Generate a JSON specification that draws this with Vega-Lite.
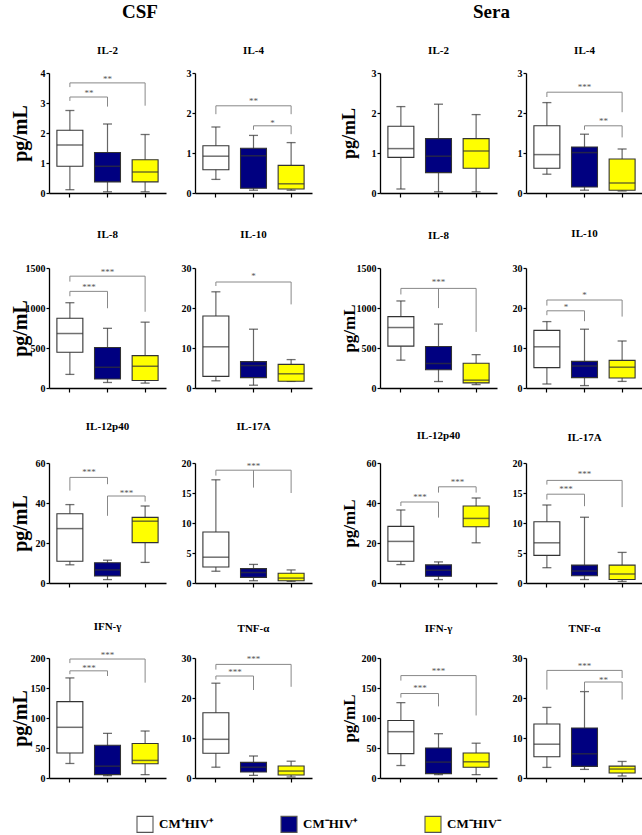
{
"$schema": "https://vega.github.io/schema/vega-lite/v6.json",
"padding": {"left": 10, "top": 3, "right": 2, "bottom": 0},
"background": "white",
"datasets": {"d": [
{"p":"C1","k":"box","g":"CM⁺HIV⁺","lo":0.11,"q1":0.89,"md":1.6,"q3":2.09,"hi":2.75},
{"p":"C1","k":"box","g":"CM⁻HIV⁺","lo":0.04,"q1":0.37,"md":0.89,"q3":1.35,"hi":2.3},
{"p":"C1","k":"box","g":"CM⁻HIV⁻","lo":0.04,"q1":0.37,"md":0.7,"q3":1.11,"hi":1.95},
{"p":"C1","k":"br","b":1,"o":1,"g":"CM⁺HIV⁺","y":3.07},
{"p":"C1","k":"br","b":1,"o":2,"g":"CM⁺HIV⁺","y":3.2},
{"p":"C1","k":"br","b":1,"o":3,"g":"CM⁻HIV⁺","y":3.2},
{"p":"C1","k":"br","b":1,"o":4,"g":"CM⁻HIV⁺","y":2.88},
{"p":"C1","k":"sh","g":"CM⁺HIV⁺","y":3.37,"s":"**"},
{"p":"C1","k":"br","b":2,"o":1,"g":"CM⁺HIV⁺","y":3.53},
{"p":"C1","k":"br","b":2,"o":2,"g":"CM⁺HIV⁺","y":3.67},
{"p":"C1","k":"br","b":2,"o":3,"g":"CM⁻HIV⁻","y":3.67},
{"p":"C1","k":"br","b":2,"o":4,"g":"CM⁻HIV⁻","y":2.91},
{"p":"C1","k":"s0","g":"CM⁻HIV⁺","y":3.86,"s":"**"},

{"p":"C2","k":"box","g":"CM⁺HIV⁺","lo":0.34,"q1":0.58,"md":0.92,"q3":1.18,"hi":1.65},
{"p":"C2","k":"box","g":"CM⁻HIV⁺","lo":0.07,"q1":0.12,"md":0.93,"q3":1.12,"hi":1.44},
{"p":"C2","k":"box","g":"CM⁻HIV⁻","lo":0.07,"q1":0.1,"md":0.23,"q3":0.69,"hi":1.26},
{"p":"C2","k":"br","b":1,"o":1,"g":"CM⁺HIV⁺","y":1.97},
{"p":"C2","k":"br","b":1,"o":2,"g":"CM⁺HIV⁺","y":2.18},
{"p":"C2","k":"br","b":1,"o":3,"g":"CM⁻HIV⁻","y":2.18},
{"p":"C2","k":"br","b":1,"o":4,"g":"CM⁻HIV⁻","y":1.97},
{"p":"C2","k":"s0","g":"CM⁻HIV⁺","y":2.33,"s":"**"},
{"p":"C2","k":"br","b":2,"o":1,"g":"CM⁻HIV⁺","y":1.58},
{"p":"C2","k":"br","b":2,"o":2,"g":"CM⁻HIV⁺","y":1.68},
{"p":"C2","k":"br","b":2,"o":3,"g":"CM⁻HIV⁻","y":1.68},
{"p":"C2","k":"br","b":2,"o":4,"g":"CM⁻HIV⁻","y":1.47},
{"p":"C2","k":"sh","g":"CM⁻HIV⁺","y":1.8,"s":"*"},

{"p":"C3","k":"box","g":"CM⁺HIV⁺","lo":170,"q1":446,"md":681,"q3":871,"hi":1066},
{"p":"C3","k":"box","g":"CM⁻HIV⁺","lo":69,"q1":113,"md":259,"q3":507,"hi":746},
{"p":"C3","k":"box","g":"CM⁻HIV⁻","lo":61,"q1":93,"md":272,"q3":405,"hi":823},
{"p":"C3","k":"br","b":1,"o":1,"g":"CM⁺HIV⁺","y":1147},
{"p":"C3","k":"br","b":1,"o":2,"g":"CM⁺HIV⁺","y":1208},
{"p":"C3","k":"br","b":1,"o":3,"g":"CM⁻HIV⁺","y":1208},
{"p":"C3","k":"br","b":1,"o":4,"g":"CM⁻HIV⁺","y":997},
{"p":"C3","k":"sh","g":"CM⁺HIV⁺","y":1277,"s":"***"},
{"p":"C3","k":"br","b":2,"o":1,"g":"CM⁺HIV⁺","y":1330},
{"p":"C3","k":"br","b":2,"o":2,"g":"CM⁺HIV⁺","y":1398},
{"p":"C3","k":"br","b":2,"o":3,"g":"CM⁻HIV⁻","y":1398},
{"p":"C3","k":"br","b":2,"o":4,"g":"CM⁻HIV⁻","y":953},
{"p":"C3","k":"s0","g":"CM⁻HIV⁺","y":1471,"s":"***"},

{"p":"C4","k":"box","g":"CM⁺HIV⁺","lo":1.8,"q1":2.9,"md":10.3,"q3":18.0,"hi":24.05},
{"p":"C4","k":"box","g":"CM⁻HIV⁺","lo":0.7,"q1":2.6,"md":5.6,"q3":6.6,"hi":14.7},
{"p":"C4","k":"box","g":"CM⁻HIV⁻","lo":1.65,"q1":1.7,"md":3.55,"q3":5.9,"hi":7.1},
{"p":"C4","k":"br","b":1,"o":1,"g":"CM⁺HIV⁺","y":25.5},
{"p":"C4","k":"br","b":1,"o":2,"g":"CM⁺HIV⁺","y":26.5},
{"p":"C4","k":"br","b":1,"o":3,"g":"CM⁻HIV⁻","y":26.5},
{"p":"C4","k":"br","b":1,"o":4,"g":"CM⁻HIV⁻","y":20.9},
{"p":"C4","k":"s0","g":"CM⁻HIV⁺","y":28.5,"s":"*"},

{"p":"C5","k":"box","g":"CM⁺HIV⁺","lo":9.1,"q1":10.9,"md":27.2,"q3":34.6,"hi":39.2},
{"p":"C5","k":"box","g":"CM⁻HIV⁺","lo":1.7,"q1":3.5,"md":6.55,"q3":10.1,"hi":11.4},
{"p":"C5","k":"box","g":"CM⁻HIV⁻","lo":10.3,"q1":20.2,"md":30.9,"q3":32.8,"hi":38.5},
{"p":"C5","k":"br","b":1,"o":1,"g":"CM⁺HIV⁺","y":46.2},
{"p":"C5","k":"br","b":1,"o":2,"g":"CM⁺HIV⁺","y":52.8},
{"p":"C5","k":"br","b":1,"o":3,"g":"CM⁻HIV⁺","y":52.8},
{"p":"C5","k":"br","b":1,"o":4,"g":"CM⁻HIV⁺","y":49.4},
{"p":"C5","k":"sh","g":"CM⁺HIV⁺","y":56.3,"s":"***"},
{"p":"C5","k":"br","b":2,"o":1,"g":"CM⁻HIV⁺","y":33.6},
{"p":"C5","k":"br","b":2,"o":2,"g":"CM⁻HIV⁺","y":43.5},
{"p":"C5","k":"br","b":2,"o":3,"g":"CM⁻HIV⁻","y":43.5},
{"p":"C5","k":"br","b":2,"o":4,"g":"CM⁻HIV⁻","y":40.7},
{"p":"C5","k":"sh","g":"CM⁻HIV⁺","y":46,"s":"***"},

{"p":"C6","k":"box","g":"CM⁺HIV⁺","lo":1.96,"q1":2.67,"md":4.3,"q3":8.5,"hi":17.2},
{"p":"C6","k":"box","g":"CM⁻HIV⁺","lo":0.38,"q1":0.93,"md":1.75,"q3":2.4,"hi":3.1},
{"p":"C6","k":"box","g":"CM⁻HIV⁻","lo":0.27,"q1":0.38,"md":0.82,"q3":1.63,"hi":2.18},
{"p":"C6","k":"br","b":1,"o":1,"g":"CM⁺HIV⁺","y":17.9},
{"p":"C6","k":"br","b":1,"o":2,"g":"CM⁺HIV⁺","y":18.8},
{"p":"C6","k":"br","b":1,"o":3,"g":"CM⁻HIV⁻","y":18.8},
{"p":"C6","k":"br","b":1,"o":4,"g":"CM⁻HIV⁻","y":15.0},
{"p":"C6","k":"br","b":2,"o":1,"g":"CM⁻HIV⁺","y":18.8},
{"p":"C6","k":"br","b":2,"o":2,"g":"CM⁻HIV⁺","y":15.9},
{"p":"C6","k":"s0","g":"CM⁻HIV⁺","y":19.8,"s":"***"},

{"p":"C7","k":"box","g":"CM⁺HIV⁺","lo":24.2,"q1":41.7,"md":84.5,"q3":127.3,"hi":166.8},
{"p":"C7","k":"box","g":"CM⁻HIV⁺","lo":3.9,"q1":5.6,"md":19.7,"q3":54.6,"hi":74.4},
{"p":"C7","k":"box","g":"CM⁻HIV⁻","lo":5.6,"q1":23.7,"md":29.3,"q3":57.5,"hi":78.3},
{"p":"C7","k":"br","b":1,"o":1,"g":"CM⁺HIV⁺","y":173},
{"p":"C7","k":"br","b":1,"o":2,"g":"CM⁺HIV⁺","y":178.6},
{"p":"C7","k":"br","b":1,"o":3,"g":"CM⁻HIV⁺","y":178.6},
{"p":"C7","k":"br","b":1,"o":4,"g":"CM⁻HIV⁺","y":170},
{"p":"C7","k":"sh","g":"CM⁺HIV⁺","y":186,"s":"***"},
{"p":"C7","k":"br","b":2,"o":1,"g":"CM⁺HIV⁺","y":191.5},
{"p":"C7","k":"br","b":2,"o":2,"g":"CM⁺HIV⁺","y":198.3},
{"p":"C7","k":"br","b":2,"o":3,"g":"CM⁻HIV⁻","y":198.3},
{"p":"C7","k":"br","b":2,"o":4,"g":"CM⁻HIV⁻","y":158.9},
{"p":"C7","k":"s0","g":"CM⁻HIV⁺","y":207,"s":"***"},

{"p":"C8","k":"box","g":"CM⁺HIV⁺","lo":2.7,"q1":6.2,"md":9.67,"q3":16.3,"hi":23.7},
{"p":"C8","k":"box","g":"CM⁻HIV⁺","lo":0.66,"q1":1.5,"md":2.7,"q3":3.9,"hi":5.5},
{"p":"C8","k":"box","g":"CM⁻HIV⁻","lo":0.25,"q1":0.74,"md":1.74,"q3":3.0,"hi":4.2},
{"p":"C8","k":"br","b":1,"o":1,"g":"CM⁺HIV⁺","y":24.6},
{"p":"C8","k":"br","b":1,"o":2,"g":"CM⁺HIV⁺","y":25.5},
{"p":"C8","k":"br","b":1,"o":3,"g":"CM⁻HIV⁺","y":25.5},
{"p":"C8","k":"br","b":1,"o":4,"g":"CM⁻HIV⁺","y":22.0},
{"p":"C8","k":"sh","g":"CM⁺HIV⁺","y":26.9,"s":"***"},
{"p":"C8","k":"br","b":2,"o":1,"g":"CM⁺HIV⁺","y":27.1},
{"p":"C8","k":"br","b":2,"o":2,"g":"CM⁺HIV⁺","y":28.4},
{"p":"C8","k":"br","b":2,"o":3,"g":"CM⁻HIV⁻","y":28.4},
{"p":"C8","k":"br","b":2,"o":4,"g":"CM⁻HIV⁻","y":22.8},
{"p":"C8","k":"s0","g":"CM⁻HIV⁺","y":30.1,"s":"***"},

{"p":"S1","k":"box","g":"CM⁺HIV⁺","lo":0.1,"q1":0.89,"md":1.11,"q3":1.67,"hi":2.16},
{"p":"S1","k":"box","g":"CM⁻HIV⁺","lo":0.03,"q1":0.51,"md":0.92,"q3":1.36,"hi":2.22},
{"p":"S1","k":"box","g":"CM⁻HIV⁻","lo":0.03,"q1":0.62,"md":1.05,"q3":1.36,"hi":1.96},

{"p":"S2","k":"box","g":"CM⁺HIV⁺","lo":0.47,"q1":0.62,"md":0.96,"q3":1.68,"hi":2.26},
{"p":"S2","k":"box","g":"CM⁻HIV⁺","lo":0.07,"q1":0.15,"md":1.01,"q3":1.15,"hi":1.47},
{"p":"S2","k":"box","g":"CM⁻HIV⁻","lo":0.05,"q1":0.07,"md":0.25,"q3":0.85,"hi":1.1},
{"p":"S2","k":"br","b":1,"o":1,"g":"CM⁺HIV⁺","y":2.4},
{"p":"S2","k":"br","b":1,"o":2,"g":"CM⁺HIV⁺","y":2.52},
{"p":"S2","k":"br","b":1,"o":3,"g":"CM⁻HIV⁻","y":2.52},
{"p":"S2","k":"br","b":1,"o":4,"g":"CM⁻HIV⁻","y":2.02},
{"p":"S2","k":"s0","g":"CM⁻HIV⁺","y":2.7,"s":"***"},
{"p":"S2","k":"br","b":2,"o":1,"g":"CM⁻HIV⁺","y":1.58},
{"p":"S2","k":"br","b":2,"o":2,"g":"CM⁻HIV⁺","y":1.68},
{"p":"S2","k":"br","b":2,"o":3,"g":"CM⁻HIV⁻","y":1.68},
{"p":"S2","k":"br","b":2,"o":4,"g":"CM⁻HIV⁻","y":1.39},
{"p":"S2","k":"sh","g":"CM⁻HIV⁺","y":1.85,"s":"**"},

{"p":"S3","k":"box","g":"CM⁺HIV⁺","lo":348,"q1":523,"md":756,"q3":892,"hi":1088},
{"p":"S3","k":"box","g":"CM⁻HIV⁺","lo":81,"q1":229,"md":306,"q3":518,"hi":799},
{"p":"S3","k":"box","g":"CM⁻HIV⁻","lo":42,"q1":64,"md":98,"q3":310,"hi":417},
{"p":"S3","k":"br","b":1,"o":1,"g":"CM⁺HIV⁺","y":1169},
{"p":"S3","k":"br","b":1,"o":2,"g":"CM⁺HIV⁺","y":1245},
{"p":"S3","k":"br","b":1,"o":3,"g":"CM⁻HIV⁻","y":1245},
{"p":"S3","k":"br","b":1,"o":4,"g":"CM⁻HIV⁻","y":701},
{"p":"S3","k":"br","b":2,"o":1,"g":"CM⁻HIV⁺","y":1245},
{"p":"S3","k":"br","b":2,"o":2,"g":"CM⁻HIV⁺","y":999},
{"p":"S3","k":"s0","g":"CM⁻HIV⁺","y":1347,"s":"***"},

{"p":"S4","k":"box","g":"CM⁺HIV⁺","lo":1.0,"q1":5.1,"md":10.3,"q3":14.4,"hi":16.6},
{"p":"S4","k":"box","g":"CM⁻HIV⁺","lo":0.6,"q1":2.6,"md":5.5,"q3":6.66,"hi":14.7},
{"p":"S4","k":"box","g":"CM⁻HIV⁻","lo":1.65,"q1":2.5,"md":5.2,"q3":6.9,"hi":11.75},
{"p":"S4","k":"br","b":1,"o":1,"g":"CM⁺HIV⁺","y":18.2},
{"p":"S4","k":"br","b":1,"o":2,"g":"CM⁺HIV⁺","y":19.3},
{"p":"S4","k":"br","b":1,"o":3,"g":"CM⁻HIV⁺","y":19.3},
{"p":"S4","k":"br","b":1,"o":4,"g":"CM⁻HIV⁺","y":16.7},
{"p":"S4","k":"sh","g":"CM⁺HIV⁺","y":20.75,"s":"*"},
{"p":"S4","k":"br","b":2,"o":1,"g":"CM⁺HIV⁺","y":20.6},
{"p":"S4","k":"br","b":2,"o":2,"g":"CM⁺HIV⁺","y":22.0},
{"p":"S4","k":"br","b":2,"o":3,"g":"CM⁻HIV⁻","y":22.0},
{"p":"S4","k":"br","b":2,"o":4,"g":"CM⁻HIV⁻","y":17.85},
{"p":"S4","k":"s0","g":"CM⁻HIV⁺","y":23.7,"s":"*"},

{"p":"S5","k":"box","g":"CM⁺HIV⁺","lo":9.2,"q1":10.9,"md":20.8,"q3":28.3,"hi":36.5},
{"p":"S5","k":"box","g":"CM⁻HIV⁺","lo":1.7,"q1":3.35,"md":6.4,"q3":9.05,"hi":10.55},
{"p":"S5","k":"box","g":"CM⁻HIV⁻","lo":20.1,"q1":28.1,"md":32.3,"q3":38.5,"hi":42.5},
{"p":"S5","k":"br","b":1,"o":1,"g":"CM⁺HIV⁺","y":38.5},
{"p":"S5","k":"br","b":1,"o":2,"g":"CM⁺HIV⁺","y":40.5},
{"p":"S5","k":"br","b":1,"o":3,"g":"CM⁻HIV⁺","y":40.5},
{"p":"S5","k":"br","b":1,"o":4,"g":"CM⁻HIV⁺","y":32.7},
{"p":"S5","k":"sh","g":"CM⁺HIV⁺","y":44,"s":"***"},
{"p":"S5","k":"br","b":2,"o":1,"g":"CM⁻HIV⁺","y":45.2},
{"p":"S5","k":"br","b":2,"o":2,"g":"CM⁻HIV⁺","y":48.1},
{"p":"S5","k":"br","b":2,"o":3,"g":"CM⁻HIV⁻","y":48.1},
{"p":"S5","k":"br","b":2,"o":4,"g":"CM⁻HIV⁻","y":45.2},
{"p":"S5","k":"sh","g":"CM⁻HIV⁺","y":51.1,"s":"***"},

{"p":"S6","k":"box","g":"CM⁺HIV⁺","lo":2.55,"q1":4.6,"md":6.7,"q3":10.2,"hi":13.0},
{"p":"S6","k":"box","g":"CM⁻HIV⁺","lo":0.58,"q1":1.22,"md":2.0,"q3":2.98,"hi":10.96},
{"p":"S6","k":"box","g":"CM⁻HIV⁻","lo":0.27,"q1":0.58,"md":1.5,"q3":2.98,"hi":5.1},
{"p":"S6","k":"br","b":1,"o":1,"g":"CM⁺HIV⁺","y":13.9},
{"p":"S6","k":"br","b":1,"o":2,"g":"CM⁺HIV⁺","y":14.8},
{"p":"S6","k":"br","b":1,"o":3,"g":"CM⁻HIV⁺","y":14.8},
{"p":"S6","k":"br","b":1,"o":4,"g":"CM⁻HIV⁺","y":12.8},
{"p":"S6","k":"sh","g":"CM⁺HIV⁺","y":15.95,"s":"***"},
{"p":"S6","k":"br","b":2,"o":1,"g":"CM⁺HIV⁺","y":16.4},
{"p":"S6","k":"br","b":2,"o":2,"g":"CM⁺HIV⁺","y":17.1},
{"p":"S6","k":"br","b":2,"o":3,"g":"CM⁻HIV⁻","y":17.1},
{"p":"S6","k":"br","b":2,"o":4,"g":"CM⁻HIV⁻","y":12.65},
{"p":"S6","k":"s0","g":"CM⁻HIV⁺","y":18.4,"s":"***"},

{"p":"S7","k":"box","g":"CM⁺HIV⁺","lo":20.8,"q1":40.6,"md":77.2,"q3":95.8,"hi":125.6},
{"p":"S7","k":"box","g":"CM⁻HIV⁺","lo":5.6,"q1":7.3,"md":26.5,"q3":50.1,"hi":73.8},
{"p":"S7","k":"box","g":"CM⁻HIV⁻","lo":5.6,"q1":18.0,"md":27,"q3":41.7,"hi":58.0},
{"p":"S7","k":"br","b":1,"o":1,"g":"CM⁺HIV⁺","y":134},
{"p":"S7","k":"br","b":1,"o":2,"g":"CM⁺HIV⁺","y":140.8},
{"p":"S7","k":"br","b":1,"o":3,"g":"CM⁻HIV⁺","y":140.8},
{"p":"S7","k":"br","b":1,"o":4,"g":"CM⁻HIV⁺","y":119.4},
{"p":"S7","k":"sh","g":"CM⁺HIV⁺","y":152,"s":"***"},
{"p":"S7","k":"br","b":2,"o":1,"g":"CM⁺HIV⁺","y":162.3},
{"p":"S7","k":"br","b":2,"o":2,"g":"CM⁺HIV⁺","y":170.7},
{"p":"S7","k":"br","b":2,"o":3,"g":"CM⁻HIV⁻","y":170.7},
{"p":"S7","k":"br","b":2,"o":4,"g":"CM⁻HIV⁻","y":104.2},
{"p":"S7","k":"s0","g":"CM⁻HIV⁺","y":181.4,"s":"***"},

{"p":"S8","k":"box","g":"CM⁺HIV⁺","lo":2.65,"q1":5.3,"md":8.45,"q3":13.5,"hi":17.65},
{"p":"S8","k":"box","g":"CM⁻HIV⁺","lo":2.15,"q1":2.9,"md":6.05,"q3":12.5,"hi":21.6},
{"p":"S8","k":"box","g":"CM⁻HIV⁻","lo":0.5,"q1":1.24,"md":2.24,"q3":2.98,"hi":4.14},
{"p":"S8","k":"br","b":1,"o":1,"g":"CM⁺HIV⁺","y":22.1},
{"p":"S8","k":"br","b":1,"o":2,"g":"CM⁺HIV⁺","y":26.9},
{"p":"S8","k":"br","b":1,"o":3,"g":"CM⁻HIV⁻","y":26.9},
{"p":"S8","k":"br","b":1,"o":4,"g":"CM⁻HIV⁻","y":25.0},
{"p":"S8","k":"s0","g":"CM⁻HIV⁺","y":28.5,"s":"***"},
{"p":"S8","k":"br","b":2,"o":1,"g":"CM⁻HIV⁺","y":21.7},
{"p":"S8","k":"br","b":2,"o":2,"g":"CM⁻HIV⁺","y":24.0},
{"p":"S8","k":"br","b":2,"o":3,"g":"CM⁻HIV⁻","y":24.0},
{"p":"S8","k":"br","b":2,"o":4,"g":"CM⁻HIV⁻","y":19.6},
{"p":"S8","k":"sh","g":"CM⁻HIV⁺","y":24.85,"s":"**"}
]},
"spacing": 28,
"hconcat": [
{"title": {"text": "CSF", "fontSize": 19, "offset": 23, "dx": -21},
 "columns": 2, "bounds": "flush", "spacing": {"row": 75, "column": 29},
 "concat": [
  {"width":117,"height":120,"title":{"text":"IL-2","offset":12},"data":{"name":"d"},"transform":[{"filter":{"field":"p","equal":"C1"}}],
   "layer":[
    {"transform":[{"filter":{"field":"k","equal":"box"}}],"mark":"rule","encoding":{"x":{"field":"g","type":"nominal","title":null,"scale":{"type":"band","domain":["CM⁺HIV⁺","CM⁻HIV⁺","CM⁻HIV⁻"],"paddingInner":0.31,"paddingOuter":0.21}},"y":{"field":"lo","type":"quantitative","title":"pg/mL","scale":{"domain":[0,4],"nice":false},"axis":{"values":[0,1,2,3,4],"tickCount":10,"format":"d","titleX":-19,"titleFontSize":20}},"y2":{"field":"hi"}}},
    {"transform":[{"filter":{"field":"k","equal":"box"}}],"mark":{"type":"tick","size":9},"encoding":{"x":{"field":"g","type":"nominal","title":null},"y":{"field":"lo","type":"quantitative","title":"pg/mL"}}},
    {"transform":[{"filter":{"field":"k","equal":"box"}}],"mark":{"type":"tick","size":9},"encoding":{"x":{"field":"g","type":"nominal","title":null},"y":{"field":"hi","type":"quantitative","title":"pg/mL"}}},
    {"transform":[{"filter":{"field":"k","equal":"box"}}],"mark":"bar","encoding":{"x":{"field":"g","type":"nominal","title":null},"y":{"field":"q1","type":"quantitative","title":"pg/mL"},"y2":{"field":"q3"},"fill":{"field":"g","type":"nominal","scale":{"domain":["CM⁺HIV⁺","CM⁻HIV⁺","CM⁻HIV⁻"],"range":["#ffffff","#000080","#ffff00"]},"legend":{"title":null}}}},
    {"transform":[{"filter":{"field":"k","equal":"box"}}],"mark":{"type":"tick","size":26,"thickness":1.5},"encoding":{"x":{"field":"g","type":"nominal","title":null},"y":{"field":"md","type":"quantitative","title":"pg/mL"}}},
    {"transform":[{"filter":{"field":"k","equal":"br"}}],"mark":"line","encoding":{"x":{"field":"g","type":"nominal","title":null},"y":{"field":"y","type":"quantitative","title":"pg/mL"},"detail":{"field":"b","type":"nominal"},"order":{"field":"o","type":"quantitative"}}},
    {"transform":[{"filter":{"field":"k","equal":"sh"}}],"mark":{"type":"text","dx":19,"dy":1.5},"encoding":{"x":{"field":"g","type":"nominal","title":null},"y":{"field":"y","type":"quantitative","title":"pg/mL"},"text":{"field":"s"}}},
    {"transform":[{"filter":{"field":"k","equal":"s0"}}],"mark":{"type":"text","dy":1.5},"encoding":{"x":{"field":"g","type":"nominal","title":null},"y":{"field":"y","type":"quantitative","title":"pg/mL"},"text":{"field":"s"}}}
   ]},
  {"width":117,"height":120,"title":{"text":"IL-4","offset":12},"data":{"name":"d"},"transform":[{"filter":{"field":"p","equal":"C2"}}],
   "layer":[
    {"transform":[{"filter":{"field":"k","equal":"box"}}],"mark":"rule","encoding":{"x":{"field":"g","type":"nominal","title":null,"scale":{"type":"band","domain":["CM⁺HIV⁺","CM⁻HIV⁺","CM⁻HIV⁻"],"paddingInner":0.31,"paddingOuter":0.21}},"y":{"field":"lo","type":"quantitative","title":null,"scale":{"domain":[0,3],"nice":false},"axis":{"values":[0,1,2,3],"tickCount":10,"format":"d"}},"y2":{"field":"hi"}}},
    {"transform":[{"filter":{"field":"k","equal":"box"}}],"mark":{"type":"tick","size":9},"encoding":{"x":{"field":"g","type":"nominal","title":null},"y":{"field":"lo","type":"quantitative","title":null}}},
    {"transform":[{"filter":{"field":"k","equal":"box"}}],"mark":{"type":"tick","size":9},"encoding":{"x":{"field":"g","type":"nominal","title":null},"y":{"field":"hi","type":"quantitative","title":null}}},
    {"transform":[{"filter":{"field":"k","equal":"box"}}],"mark":"bar","encoding":{"x":{"field":"g","type":"nominal","title":null},"y":{"field":"q1","type":"quantitative","title":null},"y2":{"field":"q3"},"fill":{"field":"g","type":"nominal","scale":{"domain":["CM⁺HIV⁺","CM⁻HIV⁺","CM⁻HIV⁻"],"range":["#ffffff","#000080","#ffff00"]},"legend":{"title":null}}}},
    {"transform":[{"filter":{"field":"k","equal":"box"}}],"mark":{"type":"tick","size":26,"thickness":1.5},"encoding":{"x":{"field":"g","type":"nominal","title":null},"y":{"field":"md","type":"quantitative","title":null}}},
    {"transform":[{"filter":{"field":"k","equal":"br"}}],"mark":"line","encoding":{"x":{"field":"g","type":"nominal","title":null},"y":{"field":"y","type":"quantitative","title":null},"detail":{"field":"b","type":"nominal"},"order":{"field":"o","type":"quantitative"}}},
    {"transform":[{"filter":{"field":"k","equal":"sh"}}],"mark":{"type":"text","dx":19,"dy":1.5},"encoding":{"x":{"field":"g","type":"nominal","title":null},"y":{"field":"y","type":"quantitative","title":null},"text":{"field":"s"}}},
    {"transform":[{"filter":{"field":"k","equal":"s0"}}],"mark":{"type":"text","dy":1.5},"encoding":{"x":{"field":"g","type":"nominal","title":null},"y":{"field":"y","type":"quantitative","title":null},"text":{"field":"s"}}}
   ]},
  {"width":117,"height":120,"title":{"text":"IL-8","offset":23},"data":{"name":"d"},"transform":[{"filter":{"field":"p","equal":"C3"}}],
   "layer":[
    {"transform":[{"filter":{"field":"k","equal":"box"}}],"mark":"rule","encoding":{"x":{"field":"g","type":"nominal","title":null,"scale":{"type":"band","domain":["CM⁺HIV⁺","CM⁻HIV⁺","CM⁻HIV⁻"],"paddingInner":0.31,"paddingOuter":0.21}},"y":{"field":"lo","type":"quantitative","title":"pg/mL","scale":{"domain":[0,1500],"nice":false},"axis":{"values":[0,500,1000,1500],"tickCount":10,"format":"d","titleX":-19,"titleFontSize":20}},"y2":{"field":"hi"}}},
    {"transform":[{"filter":{"field":"k","equal":"box"}}],"mark":{"type":"tick","size":9},"encoding":{"x":{"field":"g","type":"nominal","title":null},"y":{"field":"lo","type":"quantitative","title":"pg/mL"}}},
    {"transform":[{"filter":{"field":"k","equal":"box"}}],"mark":{"type":"tick","size":9},"encoding":{"x":{"field":"g","type":"nominal","title":null},"y":{"field":"hi","type":"quantitative","title":"pg/mL"}}},
    {"transform":[{"filter":{"field":"k","equal":"box"}}],"mark":"bar","encoding":{"x":{"field":"g","type":"nominal","title":null},"y":{"field":"q1","type":"quantitative","title":"pg/mL"},"y2":{"field":"q3"},"fill":{"field":"g","type":"nominal","scale":{"domain":["CM⁺HIV⁺","CM⁻HIV⁺","CM⁻HIV⁻"],"range":["#ffffff","#000080","#ffff00"]},"legend":{"title":null}}}},
    {"transform":[{"filter":{"field":"k","equal":"box"}}],"mark":{"type":"tick","size":26,"thickness":1.5},"encoding":{"x":{"field":"g","type":"nominal","title":null},"y":{"field":"md","type":"quantitative","title":"pg/mL"}}},
    {"transform":[{"filter":{"field":"k","equal":"br"}}],"mark":"line","encoding":{"x":{"field":"g","type":"nominal","title":null},"y":{"field":"y","type":"quantitative","title":"pg/mL"},"detail":{"field":"b","type":"nominal"},"order":{"field":"o","type":"quantitative"}}},
    {"transform":[{"filter":{"field":"k","equal":"sh"}}],"mark":{"type":"text","dx":19,"dy":1.5},"encoding":{"x":{"field":"g","type":"nominal","title":null},"y":{"field":"y","type":"quantitative","title":"pg/mL"},"text":{"field":"s"}}},
    {"transform":[{"filter":{"field":"k","equal":"s0"}}],"mark":{"type":"text","dy":1.5},"encoding":{"x":{"field":"g","type":"nominal","title":null},"y":{"field":"y","type":"quantitative","title":"pg/mL"},"text":{"field":"s"}}}
   ]},
  {"width":117,"height":120,"title":{"text":"IL-10","offset":23},"data":{"name":"d"},"transform":[{"filter":{"field":"p","equal":"C4"}}],
   "layer":[
    {"transform":[{"filter":{"field":"k","equal":"box"}}],"mark":"rule","encoding":{"x":{"field":"g","type":"nominal","title":null,"scale":{"type":"band","domain":["CM⁺HIV⁺","CM⁻HIV⁺","CM⁻HIV⁻"],"paddingInner":0.31,"paddingOuter":0.21}},"y":{"field":"lo","type":"quantitative","title":null,"scale":{"domain":[0,30],"nice":false},"axis":{"values":[0,10,20,30],"tickCount":10,"format":"d"}},"y2":{"field":"hi"}}},
    {"transform":[{"filter":{"field":"k","equal":"box"}}],"mark":{"type":"tick","size":9},"encoding":{"x":{"field":"g","type":"nominal","title":null},"y":{"field":"lo","type":"quantitative","title":null}}},
    {"transform":[{"filter":{"field":"k","equal":"box"}}],"mark":{"type":"tick","size":9},"encoding":{"x":{"field":"g","type":"nominal","title":null},"y":{"field":"hi","type":"quantitative","title":null}}},
    {"transform":[{"filter":{"field":"k","equal":"box"}}],"mark":"bar","encoding":{"x":{"field":"g","type":"nominal","title":null},"y":{"field":"q1","type":"quantitative","title":null},"y2":{"field":"q3"},"fill":{"field":"g","type":"nominal","scale":{"domain":["CM⁺HIV⁺","CM⁻HIV⁺","CM⁻HIV⁻"],"range":["#ffffff","#000080","#ffff00"]},"legend":{"title":null}}}},
    {"transform":[{"filter":{"field":"k","equal":"box"}}],"mark":{"type":"tick","size":26,"thickness":1.5},"encoding":{"x":{"field":"g","type":"nominal","title":null},"y":{"field":"md","type":"quantitative","title":null}}},
    {"transform":[{"filter":{"field":"k","equal":"br"}}],"mark":"line","encoding":{"x":{"field":"g","type":"nominal","title":null},"y":{"field":"y","type":"quantitative","title":null},"detail":{"field":"b","type":"nominal"},"order":{"field":"o","type":"quantitative"}}},
    {"transform":[{"filter":{"field":"k","equal":"sh"}}],"mark":{"type":"text","dx":19,"dy":1.5},"encoding":{"x":{"field":"g","type":"nominal","title":null},"y":{"field":"y","type":"quantitative","title":null},"text":{"field":"s"}}},
    {"transform":[{"filter":{"field":"k","equal":"s0"}}],"mark":{"type":"text","dy":1.5},"encoding":{"x":{"field":"g","type":"nominal","title":null},"y":{"field":"y","type":"quantitative","title":null},"text":{"field":"s"}}}
   ]},
  {"width":117,"height":120,"title":{"text":"IL-12p40","offset":26},"data":{"name":"d"},"transform":[{"filter":{"field":"p","equal":"C5"}}],
   "layer":[
    {"transform":[{"filter":{"field":"k","equal":"box"}}],"mark":"rule","encoding":{"x":{"field":"g","type":"nominal","title":null,"scale":{"type":"band","domain":["CM⁺HIV⁺","CM⁻HIV⁺","CM⁻HIV⁻"],"paddingInner":0.31,"paddingOuter":0.21}},"y":{"field":"lo","type":"quantitative","title":"pg/mL","scale":{"domain":[0,60],"nice":false},"axis":{"values":[0,20,40,60],"tickCount":10,"format":"d","titleX":-19,"titleFontSize":20}},"y2":{"field":"hi"}}},
    {"transform":[{"filter":{"field":"k","equal":"box"}}],"mark":{"type":"tick","size":9},"encoding":{"x":{"field":"g","type":"nominal","title":null},"y":{"field":"lo","type":"quantitative","title":"pg/mL"}}},
    {"transform":[{"filter":{"field":"k","equal":"box"}}],"mark":{"type":"tick","size":9},"encoding":{"x":{"field":"g","type":"nominal","title":null},"y":{"field":"hi","type":"quantitative","title":"pg/mL"}}},
    {"transform":[{"filter":{"field":"k","equal":"box"}}],"mark":"bar","encoding":{"x":{"field":"g","type":"nominal","title":null},"y":{"field":"q1","type":"quantitative","title":"pg/mL"},"y2":{"field":"q3"},"fill":{"field":"g","type":"nominal","scale":{"domain":["CM⁺HIV⁺","CM⁻HIV⁺","CM⁻HIV⁻"],"range":["#ffffff","#000080","#ffff00"]},"legend":{"title":null}}}},
    {"transform":[{"filter":{"field":"k","equal":"box"}}],"mark":{"type":"tick","size":26,"thickness":1.5},"encoding":{"x":{"field":"g","type":"nominal","title":null},"y":{"field":"md","type":"quantitative","title":"pg/mL"}}},
    {"transform":[{"filter":{"field":"k","equal":"br"}}],"mark":"line","encoding":{"x":{"field":"g","type":"nominal","title":null},"y":{"field":"y","type":"quantitative","title":"pg/mL"},"detail":{"field":"b","type":"nominal"},"order":{"field":"o","type":"quantitative"}}},
    {"transform":[{"filter":{"field":"k","equal":"sh"}}],"mark":{"type":"text","dx":19,"dy":1.5},"encoding":{"x":{"field":"g","type":"nominal","title":null},"y":{"field":"y","type":"quantitative","title":"pg/mL"},"text":{"field":"s"}}},
    {"transform":[{"filter":{"field":"k","equal":"s0"}}],"mark":{"type":"text","dy":1.5},"encoding":{"x":{"field":"g","type":"nominal","title":null},"y":{"field":"y","type":"quantitative","title":"pg/mL"},"text":{"field":"s"}}}
   ]},
  {"width":117,"height":120,"title":{"text":"IL-17A","offset":26},"data":{"name":"d"},"transform":[{"filter":{"field":"p","equal":"C6"}}],
   "layer":[
    {"transform":[{"filter":{"field":"k","equal":"box"}}],"mark":"rule","encoding":{"x":{"field":"g","type":"nominal","title":null,"scale":{"type":"band","domain":["CM⁺HIV⁺","CM⁻HIV⁺","CM⁻HIV⁻"],"paddingInner":0.31,"paddingOuter":0.21}},"y":{"field":"lo","type":"quantitative","title":null,"scale":{"domain":[0,20],"nice":false},"axis":{"values":[0,5,10,15,20],"tickCount":10,"format":"d"}},"y2":{"field":"hi"}}},
    {"transform":[{"filter":{"field":"k","equal":"box"}}],"mark":{"type":"tick","size":9},"encoding":{"x":{"field":"g","type":"nominal","title":null},"y":{"field":"lo","type":"quantitative","title":null}}},
    {"transform":[{"filter":{"field":"k","equal":"box"}}],"mark":{"type":"tick","size":9},"encoding":{"x":{"field":"g","type":"nominal","title":null},"y":{"field":"hi","type":"quantitative","title":null}}},
    {"transform":[{"filter":{"field":"k","equal":"box"}}],"mark":"bar","encoding":{"x":{"field":"g","type":"nominal","title":null},"y":{"field":"q1","type":"quantitative","title":null},"y2":{"field":"q3"},"fill":{"field":"g","type":"nominal","scale":{"domain":["CM⁺HIV⁺","CM⁻HIV⁺","CM⁻HIV⁻"],"range":["#ffffff","#000080","#ffff00"]},"legend":{"title":null}}}},
    {"transform":[{"filter":{"field":"k","equal":"box"}}],"mark":{"type":"tick","size":26,"thickness":1.5},"encoding":{"x":{"field":"g","type":"nominal","title":null},"y":{"field":"md","type":"quantitative","title":null}}},
    {"transform":[{"filter":{"field":"k","equal":"br"}}],"mark":"line","encoding":{"x":{"field":"g","type":"nominal","title":null},"y":{"field":"y","type":"quantitative","title":null},"detail":{"field":"b","type":"nominal"},"order":{"field":"o","type":"quantitative"}}},
    {"transform":[{"filter":{"field":"k","equal":"sh"}}],"mark":{"type":"text","dx":19,"dy":1.5},"encoding":{"x":{"field":"g","type":"nominal","title":null},"y":{"field":"y","type":"quantitative","title":null},"text":{"field":"s"}}},
    {"transform":[{"filter":{"field":"k","equal":"s0"}}],"mark":{"type":"text","dy":1.5},"encoding":{"x":{"field":"g","type":"nominal","title":null},"y":{"field":"y","type":"quantitative","title":null},"text":{"field":"s"}}}
   ]},
  {"width":117,"height":120,"title":{"text":"IFN-γ","offset":19},"data":{"name":"d"},"transform":[{"filter":{"field":"p","equal":"C7"}}],
   "layer":[
    {"transform":[{"filter":{"field":"k","equal":"box"}}],"mark":"rule","encoding":{"x":{"field":"g","type":"nominal","title":null,"scale":{"type":"band","domain":["CM⁺HIV⁺","CM⁻HIV⁺","CM⁻HIV⁻"],"paddingInner":0.31,"paddingOuter":0.21}},"y":{"field":"lo","type":"quantitative","title":"pg/mL","scale":{"domain":[0,200],"nice":false},"axis":{"values":[0,50,100,150,200],"tickCount":10,"format":"d","titleX":-19,"titleFontSize":20}},"y2":{"field":"hi"}}},
    {"transform":[{"filter":{"field":"k","equal":"box"}}],"mark":{"type":"tick","size":9},"encoding":{"x":{"field":"g","type":"nominal","title":null},"y":{"field":"lo","type":"quantitative","title":"pg/mL"}}},
    {"transform":[{"filter":{"field":"k","equal":"box"}}],"mark":{"type":"tick","size":9},"encoding":{"x":{"field":"g","type":"nominal","title":null},"y":{"field":"hi","type":"quantitative","title":"pg/mL"}}},
    {"transform":[{"filter":{"field":"k","equal":"box"}}],"mark":"bar","encoding":{"x":{"field":"g","type":"nominal","title":null},"y":{"field":"q1","type":"quantitative","title":"pg/mL"},"y2":{"field":"q3"},"fill":{"field":"g","type":"nominal","scale":{"domain":["CM⁺HIV⁺","CM⁻HIV⁺","CM⁻HIV⁻"],"range":["#ffffff","#000080","#ffff00"]},"legend":{"title":null}}}},
    {"transform":[{"filter":{"field":"k","equal":"box"}}],"mark":{"type":"tick","size":26,"thickness":1.5},"encoding":{"x":{"field":"g","type":"nominal","title":null},"y":{"field":"md","type":"quantitative","title":"pg/mL"}}},
    {"transform":[{"filter":{"field":"k","equal":"br"}}],"mark":"line","encoding":{"x":{"field":"g","type":"nominal","title":null},"y":{"field":"y","type":"quantitative","title":"pg/mL"},"detail":{"field":"b","type":"nominal"},"order":{"field":"o","type":"quantitative"}}},
    {"transform":[{"filter":{"field":"k","equal":"sh"}}],"mark":{"type":"text","dx":19,"dy":1.5},"encoding":{"x":{"field":"g","type":"nominal","title":null},"y":{"field":"y","type":"quantitative","title":"pg/mL"},"text":{"field":"s"}}},
    {"transform":[{"filter":{"field":"k","equal":"s0"}}],"mark":{"type":"text","dy":1.5},"encoding":{"x":{"field":"g","type":"nominal","title":null},"y":{"field":"y","type":"quantitative","title":"pg/mL"},"text":{"field":"s"}}}
   ]},
  {"width":117,"height":120,"title":{"text":"TNF-α","offset":19},"data":{"name":"d"},"transform":[{"filter":{"field":"p","equal":"C8"}}],
   "layer":[
    {"transform":[{"filter":{"field":"k","equal":"box"}}],"mark":"rule","encoding":{"x":{"field":"g","type":"nominal","title":null,"scale":{"type":"band","domain":["CM⁺HIV⁺","CM⁻HIV⁺","CM⁻HIV⁻"],"paddingInner":0.31,"paddingOuter":0.21}},"y":{"field":"lo","type":"quantitative","title":null,"scale":{"domain":[0,30],"nice":false},"axis":{"values":[0,10,20,30],"tickCount":10,"format":"d"}},"y2":{"field":"hi"}}},
    {"transform":[{"filter":{"field":"k","equal":"box"}}],"mark":{"type":"tick","size":9},"encoding":{"x":{"field":"g","type":"nominal","title":null},"y":{"field":"lo","type":"quantitative","title":null}}},
    {"transform":[{"filter":{"field":"k","equal":"box"}}],"mark":{"type":"tick","size":9},"encoding":{"x":{"field":"g","type":"nominal","title":null},"y":{"field":"hi","type":"quantitative","title":null}}},
    {"transform":[{"filter":{"field":"k","equal":"box"}}],"mark":"bar","encoding":{"x":{"field":"g","type":"nominal","title":null},"y":{"field":"q1","type":"quantitative","title":null},"y2":{"field":"q3"},"fill":{"field":"g","type":"nominal","scale":{"domain":["CM⁺HIV⁺","CM⁻HIV⁺","CM⁻HIV⁻"],"range":["#ffffff","#000080","#ffff00"]},"legend":{"title":null}}}},
    {"transform":[{"filter":{"field":"k","equal":"box"}}],"mark":{"type":"tick","size":26,"thickness":1.5},"encoding":{"x":{"field":"g","type":"nominal","title":null},"y":{"field":"md","type":"quantitative","title":null}}},
    {"transform":[{"filter":{"field":"k","equal":"br"}}],"mark":"line","encoding":{"x":{"field":"g","type":"nominal","title":null},"y":{"field":"y","type":"quantitative","title":null},"detail":{"field":"b","type":"nominal"},"order":{"field":"o","type":"quantitative"}}},
    {"transform":[{"filter":{"field":"k","equal":"sh"}}],"mark":{"type":"text","dx":19,"dy":1.5},"encoding":{"x":{"field":"g","type":"nominal","title":null},"y":{"field":"y","type":"quantitative","title":null},"text":{"field":"s"}}},
    {"transform":[{"filter":{"field":"k","equal":"s0"}}],"mark":{"type":"text","dy":1.5},"encoding":{"x":{"field":"g","type":"nominal","title":null},"y":{"field":"y","type":"quantitative","title":null},"text":{"field":"s"}}}
   ]}
 ]},
{"title": {"text": "Sera", "fontSize": 19, "offset": 23, "dx": 0},
 "columns": 2, "bounds": "flush", "spacing": {"row": 75, "column": 29},
 "concat": [
  {"width":117,"height":120,"title":{"text":"IL-2","offset":12},"data":{"name":"d"},"transform":[{"filter":{"field":"p","equal":"S1"}}],
   "layer":[
    {"transform":[{"filter":{"field":"k","equal":"box"}}],"mark":"rule","encoding":{"x":{"field":"g","type":"nominal","title":null,"scale":{"type":"band","domain":["CM⁺HIV⁺","CM⁻HIV⁺","CM⁻HIV⁻"],"paddingInner":0.31,"paddingOuter":0.21}},"y":{"field":"lo","type":"quantitative","title":"pg/mL","scale":{"domain":[0,3],"nice":false},"axis":{"values":[0,1,2,3],"tickCount":10,"format":"d","titleX":-22,"titleFontSize":18}},"y2":{"field":"hi"}}},
    {"transform":[{"filter":{"field":"k","equal":"box"}}],"mark":{"type":"tick","size":9},"encoding":{"x":{"field":"g","type":"nominal","title":null},"y":{"field":"lo","type":"quantitative","title":"pg/mL"}}},
    {"transform":[{"filter":{"field":"k","equal":"box"}}],"mark":{"type":"tick","size":9},"encoding":{"x":{"field":"g","type":"nominal","title":null},"y":{"field":"hi","type":"quantitative","title":"pg/mL"}}},
    {"transform":[{"filter":{"field":"k","equal":"box"}}],"mark":"bar","encoding":{"x":{"field":"g","type":"nominal","title":null},"y":{"field":"q1","type":"quantitative","title":"pg/mL"},"y2":{"field":"q3"},"fill":{"field":"g","type":"nominal","scale":{"domain":["CM⁺HIV⁺","CM⁻HIV⁺","CM⁻HIV⁻"],"range":["#ffffff","#000080","#ffff00"]},"legend":{"title":null}}}},
    {"transform":[{"filter":{"field":"k","equal":"box"}}],"mark":{"type":"tick","size":26,"thickness":1.5},"encoding":{"x":{"field":"g","type":"nominal","title":null},"y":{"field":"md","type":"quantitative","title":"pg/mL"}}}
   ]},
  {"width":117,"height":120,"title":{"text":"IL-4","offset":12},"data":{"name":"d"},"transform":[{"filter":{"field":"p","equal":"S2"}}],
   "layer":[
    {"transform":[{"filter":{"field":"k","equal":"box"}}],"mark":"rule","encoding":{"x":{"field":"g","type":"nominal","title":null,"scale":{"type":"band","domain":["CM⁺HIV⁺","CM⁻HIV⁺","CM⁻HIV⁻"],"paddingInner":0.31,"paddingOuter":0.21}},"y":{"field":"lo","type":"quantitative","title":null,"scale":{"domain":[0,3],"nice":false},"axis":{"values":[0,1,2,3],"tickCount":10,"format":"d"}},"y2":{"field":"hi"}}},
    {"transform":[{"filter":{"field":"k","equal":"box"}}],"mark":{"type":"tick","size":9},"encoding":{"x":{"field":"g","type":"nominal","title":null},"y":{"field":"lo","type":"quantitative","title":null}}},
    {"transform":[{"filter":{"field":"k","equal":"box"}}],"mark":{"type":"tick","size":9},"encoding":{"x":{"field":"g","type":"nominal","title":null},"y":{"field":"hi","type":"quantitative","title":null}}},
    {"transform":[{"filter":{"field":"k","equal":"box"}}],"mark":"bar","encoding":{"x":{"field":"g","type":"nominal","title":null},"y":{"field":"q1","type":"quantitative","title":null},"y2":{"field":"q3"},"fill":{"field":"g","type":"nominal","scale":{"domain":["CM⁺HIV⁺","CM⁻HIV⁺","CM⁻HIV⁻"],"range":["#ffffff","#000080","#ffff00"]},"legend":{"title":null}}}},
    {"transform":[{"filter":{"field":"k","equal":"box"}}],"mark":{"type":"tick","size":26,"thickness":1.5},"encoding":{"x":{"field":"g","type":"nominal","title":null},"y":{"field":"md","type":"quantitative","title":null}}},
    {"transform":[{"filter":{"field":"k","equal":"br"}}],"mark":"line","encoding":{"x":{"field":"g","type":"nominal","title":null},"y":{"field":"y","type":"quantitative","title":null},"detail":{"field":"b","type":"nominal"},"order":{"field":"o","type":"quantitative"}}},
    {"transform":[{"filter":{"field":"k","equal":"sh"}}],"mark":{"type":"text","dx":19,"dy":1.5},"encoding":{"x":{"field":"g","type":"nominal","title":null},"y":{"field":"y","type":"quantitative","title":null},"text":{"field":"s"}}},
    {"transform":[{"filter":{"field":"k","equal":"s0"}}],"mark":{"type":"text","dy":1.5},"encoding":{"x":{"field":"g","type":"nominal","title":null},"y":{"field":"y","type":"quantitative","title":null},"text":{"field":"s"}}}
   ]},
  {"width":117,"height":120,"title":{"text":"IL-8","offset":22},"data":{"name":"d"},"transform":[{"filter":{"field":"p","equal":"S3"}}],
   "layer":[
    {"transform":[{"filter":{"field":"k","equal":"box"}}],"mark":"rule","encoding":{"x":{"field":"g","type":"nominal","title":null,"scale":{"type":"band","domain":["CM⁺HIV⁺","CM⁻HIV⁺","CM⁻HIV⁻"],"paddingInner":0.31,"paddingOuter":0.21}},"y":{"field":"lo","type":"quantitative","title":"pg/mL","scale":{"domain":[0,1500],"nice":false},"axis":{"values":[0,500,1000,1500],"tickCount":10,"format":"d","titleX":-22,"titleFontSize":17}},"y2":{"field":"hi"}}},
    {"transform":[{"filter":{"field":"k","equal":"box"}}],"mark":{"type":"tick","size":9},"encoding":{"x":{"field":"g","type":"nominal","title":null},"y":{"field":"lo","type":"quantitative","title":"pg/mL"}}},
    {"transform":[{"filter":{"field":"k","equal":"box"}}],"mark":{"type":"tick","size":9},"encoding":{"x":{"field":"g","type":"nominal","title":null},"y":{"field":"hi","type":"quantitative","title":"pg/mL"}}},
    {"transform":[{"filter":{"field":"k","equal":"box"}}],"mark":"bar","encoding":{"x":{"field":"g","type":"nominal","title":null},"y":{"field":"q1","type":"quantitative","title":"pg/mL"},"y2":{"field":"q3"},"fill":{"field":"g","type":"nominal","scale":{"domain":["CM⁺HIV⁺","CM⁻HIV⁺","CM⁻HIV⁻"],"range":["#ffffff","#000080","#ffff00"]},"legend":{"title":null}}}},
    {"transform":[{"filter":{"field":"k","equal":"box"}}],"mark":{"type":"tick","size":26,"thickness":1.5},"encoding":{"x":{"field":"g","type":"nominal","title":null},"y":{"field":"md","type":"quantitative","title":"pg/mL"}}},
    {"transform":[{"filter":{"field":"k","equal":"br"}}],"mark":"line","encoding":{"x":{"field":"g","type":"nominal","title":null},"y":{"field":"y","type":"quantitative","title":"pg/mL"},"detail":{"field":"b","type":"nominal"},"order":{"field":"o","type":"quantitative"}}},
    {"transform":[{"filter":{"field":"k","equal":"sh"}}],"mark":{"type":"text","dx":19,"dy":1.5},"encoding":{"x":{"field":"g","type":"nominal","title":null},"y":{"field":"y","type":"quantitative","title":"pg/mL"},"text":{"field":"s"}}},
    {"transform":[{"filter":{"field":"k","equal":"s0"}}],"mark":{"type":"text","dy":1.5},"encoding":{"x":{"field":"g","type":"nominal","title":null},"y":{"field":"y","type":"quantitative","title":"pg/mL"},"text":{"field":"s"}}}
   ]},
  {"width":117,"height":120,"title":{"text":"IL-10","offset":24},"data":{"name":"d"},"transform":[{"filter":{"field":"p","equal":"S4"}}],
   "layer":[
    {"transform":[{"filter":{"field":"k","equal":"box"}}],"mark":"rule","encoding":{"x":{"field":"g","type":"nominal","title":null,"scale":{"type":"band","domain":["CM⁺HIV⁺","CM⁻HIV⁺","CM⁻HIV⁻"],"paddingInner":0.31,"paddingOuter":0.21}},"y":{"field":"lo","type":"quantitative","title":null,"scale":{"domain":[0,30],"nice":false},"axis":{"values":[0,10,20,30],"tickCount":10,"format":"d"}},"y2":{"field":"hi"}}},
    {"transform":[{"filter":{"field":"k","equal":"box"}}],"mark":{"type":"tick","size":9},"encoding":{"x":{"field":"g","type":"nominal","title":null},"y":{"field":"lo","type":"quantitative","title":null}}},
    {"transform":[{"filter":{"field":"k","equal":"box"}}],"mark":{"type":"tick","size":9},"encoding":{"x":{"field":"g","type":"nominal","title":null},"y":{"field":"hi","type":"quantitative","title":null}}},
    {"transform":[{"filter":{"field":"k","equal":"box"}}],"mark":"bar","encoding":{"x":{"field":"g","type":"nominal","title":null},"y":{"field":"q1","type":"quantitative","title":null},"y2":{"field":"q3"},"fill":{"field":"g","type":"nominal","scale":{"domain":["CM⁺HIV⁺","CM⁻HIV⁺","CM⁻HIV⁻"],"range":["#ffffff","#000080","#ffff00"]},"legend":{"title":null}}}},
    {"transform":[{"filter":{"field":"k","equal":"box"}}],"mark":{"type":"tick","size":26,"thickness":1.5},"encoding":{"x":{"field":"g","type":"nominal","title":null},"y":{"field":"md","type":"quantitative","title":null}}},
    {"transform":[{"filter":{"field":"k","equal":"br"}}],"mark":"line","encoding":{"x":{"field":"g","type":"nominal","title":null},"y":{"field":"y","type":"quantitative","title":null},"detail":{"field":"b","type":"nominal"},"order":{"field":"o","type":"quantitative"}}},
    {"transform":[{"filter":{"field":"k","equal":"sh"}}],"mark":{"type":"text","dx":19,"dy":1.5},"encoding":{"x":{"field":"g","type":"nominal","title":null},"y":{"field":"y","type":"quantitative","title":null},"text":{"field":"s"}}},
    {"transform":[{"filter":{"field":"k","equal":"s0"}}],"mark":{"type":"text","dy":1.5},"encoding":{"x":{"field":"g","type":"nominal","title":null},"y":{"field":"y","type":"quantitative","title":null},"text":{"field":"s"}}}
   ]},
  {"width":117,"height":120,"title":{"text":"IL-12p40","offset":17},"data":{"name":"d"},"transform":[{"filter":{"field":"p","equal":"S5"}}],
   "layer":[
    {"transform":[{"filter":{"field":"k","equal":"box"}}],"mark":"rule","encoding":{"x":{"field":"g","type":"nominal","title":null,"scale":{"type":"band","domain":["CM⁺HIV⁺","CM⁻HIV⁺","CM⁻HIV⁻"],"paddingInner":0.31,"paddingOuter":0.21}},"y":{"field":"lo","type":"quantitative","title":"pg/mL","scale":{"domain":[0,60],"nice":false},"axis":{"values":[0,20,40,60],"tickCount":10,"format":"d","titleX":-22,"titleFontSize":17}},"y2":{"field":"hi"}}},
    {"transform":[{"filter":{"field":"k","equal":"box"}}],"mark":{"type":"tick","size":9},"encoding":{"x":{"field":"g","type":"nominal","title":null},"y":{"field":"lo","type":"quantitative","title":"pg/mL"}}},
    {"transform":[{"filter":{"field":"k","equal":"box"}}],"mark":{"type":"tick","size":9},"encoding":{"x":{"field":"g","type":"nominal","title":null},"y":{"field":"hi","type":"quantitative","title":"pg/mL"}}},
    {"transform":[{"filter":{"field":"k","equal":"box"}}],"mark":"bar","encoding":{"x":{"field":"g","type":"nominal","title":null},"y":{"field":"q1","type":"quantitative","title":"pg/mL"},"y2":{"field":"q3"},"fill":{"field":"g","type":"nominal","scale":{"domain":["CM⁺HIV⁺","CM⁻HIV⁺","CM⁻HIV⁻"],"range":["#ffffff","#000080","#ffff00"]},"legend":{"title":null}}}},
    {"transform":[{"filter":{"field":"k","equal":"box"}}],"mark":{"type":"tick","size":26,"thickness":1.5},"encoding":{"x":{"field":"g","type":"nominal","title":null},"y":{"field":"md","type":"quantitative","title":"pg/mL"}}},
    {"transform":[{"filter":{"field":"k","equal":"br"}}],"mark":"line","encoding":{"x":{"field":"g","type":"nominal","title":null},"y":{"field":"y","type":"quantitative","title":"pg/mL"},"detail":{"field":"b","type":"nominal"},"order":{"field":"o","type":"quantitative"}}},
    {"transform":[{"filter":{"field":"k","equal":"sh"}}],"mark":{"type":"text","dx":19,"dy":1.5},"encoding":{"x":{"field":"g","type":"nominal","title":null},"y":{"field":"y","type":"quantitative","title":"pg/mL"},"text":{"field":"s"}}},
    {"transform":[{"filter":{"field":"k","equal":"s0"}}],"mark":{"type":"text","dy":1.5},"encoding":{"x":{"field":"g","type":"nominal","title":null},"y":{"field":"y","type":"quantitative","title":"pg/mL"},"text":{"field":"s"}}}
   ]},
  {"width":117,"height":120,"title":{"text":"IL-17A","offset":15},"data":{"name":"d"},"transform":[{"filter":{"field":"p","equal":"S6"}}],
   "layer":[
    {"transform":[{"filter":{"field":"k","equal":"box"}}],"mark":"rule","encoding":{"x":{"field":"g","type":"nominal","title":null,"scale":{"type":"band","domain":["CM⁺HIV⁺","CM⁻HIV⁺","CM⁻HIV⁻"],"paddingInner":0.31,"paddingOuter":0.21}},"y":{"field":"lo","type":"quantitative","title":null,"scale":{"domain":[0,20],"nice":false},"axis":{"values":[0,5,10,15,20],"tickCount":10,"format":"d"}},"y2":{"field":"hi"}}},
    {"transform":[{"filter":{"field":"k","equal":"box"}}],"mark":{"type":"tick","size":9},"encoding":{"x":{"field":"g","type":"nominal","title":null},"y":{"field":"lo","type":"quantitative","title":null}}},
    {"transform":[{"filter":{"field":"k","equal":"box"}}],"mark":{"type":"tick","size":9},"encoding":{"x":{"field":"g","type":"nominal","title":null},"y":{"field":"hi","type":"quantitative","title":null}}},
    {"transform":[{"filter":{"field":"k","equal":"box"}}],"mark":"bar","encoding":{"x":{"field":"g","type":"nominal","title":null},"y":{"field":"q1","type":"quantitative","title":null},"y2":{"field":"q3"},"fill":{"field":"g","type":"nominal","scale":{"domain":["CM⁺HIV⁺","CM⁻HIV⁺","CM⁻HIV⁻"],"range":["#ffffff","#000080","#ffff00"]},"legend":{"title":null}}}},
    {"transform":[{"filter":{"field":"k","equal":"box"}}],"mark":{"type":"tick","size":26,"thickness":1.5},"encoding":{"x":{"field":"g","type":"nominal","title":null},"y":{"field":"md","type":"quantitative","title":null}}},
    {"transform":[{"filter":{"field":"k","equal":"br"}}],"mark":"line","encoding":{"x":{"field":"g","type":"nominal","title":null},"y":{"field":"y","type":"quantitative","title":null},"detail":{"field":"b","type":"nominal"},"order":{"field":"o","type":"quantitative"}}},
    {"transform":[{"filter":{"field":"k","equal":"sh"}}],"mark":{"type":"text","dx":19,"dy":1.5},"encoding":{"x":{"field":"g","type":"nominal","title":null},"y":{"field":"y","type":"quantitative","title":null},"text":{"field":"s"}}},
    {"transform":[{"filter":{"field":"k","equal":"s0"}}],"mark":{"type":"text","dy":1.5},"encoding":{"x":{"field":"g","type":"nominal","title":null},"y":{"field":"y","type":"quantitative","title":null},"text":{"field":"s"}}}
   ]},
  {"width":117,"height":120,"title":{"text":"IFN-γ","offset":19},"data":{"name":"d"},"transform":[{"filter":{"field":"p","equal":"S7"}}],
   "layer":[
    {"transform":[{"filter":{"field":"k","equal":"box"}}],"mark":"rule","encoding":{"x":{"field":"g","type":"nominal","title":null,"scale":{"type":"band","domain":["CM⁺HIV⁺","CM⁻HIV⁺","CM⁻HIV⁻"],"paddingInner":0.31,"paddingOuter":0.21}},"y":{"field":"lo","type":"quantitative","title":"pg/mL","scale":{"domain":[0,200],"nice":false},"axis":{"values":[0,50,100,150,200],"tickCount":10,"format":"d","titleX":-22,"titleFontSize":17}},"y2":{"field":"hi"}}},
    {"transform":[{"filter":{"field":"k","equal":"box"}}],"mark":{"type":"tick","size":9},"encoding":{"x":{"field":"g","type":"nominal","title":null},"y":{"field":"lo","type":"quantitative","title":"pg/mL"}}},
    {"transform":[{"filter":{"field":"k","equal":"box"}}],"mark":{"type":"tick","size":9},"encoding":{"x":{"field":"g","type":"nominal","title":null},"y":{"field":"hi","type":"quantitative","title":"pg/mL"}}},
    {"transform":[{"filter":{"field":"k","equal":"box"}}],"mark":"bar","encoding":{"x":{"field":"g","type":"nominal","title":null},"y":{"field":"q1","type":"quantitative","title":"pg/mL"},"y2":{"field":"q3"},"fill":{"field":"g","type":"nominal","scale":{"domain":["CM⁺HIV⁺","CM⁻HIV⁺","CM⁻HIV⁻"],"range":["#ffffff","#000080","#ffff00"]},"legend":{"title":null}}}},
    {"transform":[{"filter":{"field":"k","equal":"box"}}],"mark":{"type":"tick","size":26,"thickness":1.5},"encoding":{"x":{"field":"g","type":"nominal","title":null},"y":{"field":"md","type":"quantitative","title":"pg/mL"}}},
    {"transform":[{"filter":{"field":"k","equal":"br"}}],"mark":"line","encoding":{"x":{"field":"g","type":"nominal","title":null},"y":{"field":"y","type":"quantitative","title":"pg/mL"},"detail":{"field":"b","type":"nominal"},"order":{"field":"o","type":"quantitative"}}},
    {"transform":[{"filter":{"field":"k","equal":"sh"}}],"mark":{"type":"text","dx":19,"dy":1.5},"encoding":{"x":{"field":"g","type":"nominal","title":null},"y":{"field":"y","type":"quantitative","title":"pg/mL"},"text":{"field":"s"}}},
    {"transform":[{"filter":{"field":"k","equal":"s0"}}],"mark":{"type":"text","dy":1.5},"encoding":{"x":{"field":"g","type":"nominal","title":null},"y":{"field":"y","type":"quantitative","title":"pg/mL"},"text":{"field":"s"}}}
   ]},
  {"width":117,"height":120,"title":{"text":"TNF-α","offset":19},"data":{"name":"d"},"transform":[{"filter":{"field":"p","equal":"S8"}}],
   "layer":[
    {"transform":[{"filter":{"field":"k","equal":"box"}}],"mark":"rule","encoding":{"x":{"field":"g","type":"nominal","title":null,"scale":{"type":"band","domain":["CM⁺HIV⁺","CM⁻HIV⁺","CM⁻HIV⁻"],"paddingInner":0.31,"paddingOuter":0.21}},"y":{"field":"lo","type":"quantitative","title":null,"scale":{"domain":[0,30],"nice":false},"axis":{"values":[0,10,20,30],"tickCount":10,"format":"d"}},"y2":{"field":"hi"}}},
    {"transform":[{"filter":{"field":"k","equal":"box"}}],"mark":{"type":"tick","size":9},"encoding":{"x":{"field":"g","type":"nominal","title":null},"y":{"field":"lo","type":"quantitative","title":null}}},
    {"transform":[{"filter":{"field":"k","equal":"box"}}],"mark":{"type":"tick","size":9},"encoding":{"x":{"field":"g","type":"nominal","title":null},"y":{"field":"hi","type":"quantitative","title":null}}},
    {"transform":[{"filter":{"field":"k","equal":"box"}}],"mark":"bar","encoding":{"x":{"field":"g","type":"nominal","title":null},"y":{"field":"q1","type":"quantitative","title":null},"y2":{"field":"q3"},"fill":{"field":"g","type":"nominal","scale":{"domain":["CM⁺HIV⁺","CM⁻HIV⁺","CM⁻HIV⁻"],"range":["#ffffff","#000080","#ffff00"]},"legend":{"title":null}}}},
    {"transform":[{"filter":{"field":"k","equal":"box"}}],"mark":{"type":"tick","size":26,"thickness":1.5},"encoding":{"x":{"field":"g","type":"nominal","title":null},"y":{"field":"md","type":"quantitative","title":null}}},
    {"transform":[{"filter":{"field":"k","equal":"br"}}],"mark":"line","encoding":{"x":{"field":"g","type":"nominal","title":null},"y":{"field":"y","type":"quantitative","title":null},"detail":{"field":"b","type":"nominal"},"order":{"field":"o","type":"quantitative"}}},
    {"transform":[{"filter":{"field":"k","equal":"sh"}}],"mark":{"type":"text","dx":19,"dy":1.5},"encoding":{"x":{"field":"g","type":"nominal","title":null},"y":{"field":"y","type":"quantitative","title":null},"text":{"field":"s"}}},
    {"transform":[{"filter":{"field":"k","equal":"s0"}}],"mark":{"type":"text","dy":1.5},"encoding":{"x":{"field":"g","type":"nominal","title":null},"y":{"field":"y","type":"quantitative","title":null},"text":{"field":"s"}}}
   ]}
 ]}
],
"config": {
 "view": {"stroke": null},
 "font": "Liberation Serif",
 "title": {"font": "Liberation Serif", "fontSize": 11, "fontWeight": "bold", "color": "black", "anchor": "middle"},
 "axis": {"grid": false, "domainColor": "black", "tickColor": "black", "domainWidth": 1.3, "tickWidth": 1.2, "tickSize": 4},
 "axisX": {"labels": false},
 "axisY": {"tickSize": 3, "labelFont": "Liberation Serif", "labelFontWeight": "bold", "labelFontSize": 10, "labelColor": "black", "labelPadding": 1, "titleFont": "Liberation Serif", "titleFontWeight": "bold", "titleColor": "black"},
 "rule": {"color": "#666", "strokeWidth": 1.2},
 "tick": {"color": "#333", "thickness": 1.3},
 "bar": {"stroke": "#333", "strokeWidth": 1.1},
 "line": {"color": "#888", "strokeWidth": 1},
 "text": {"font": "Liberation Serif", "fontSize": 9, "color": "#555"},
 "legend": {"orient": "none", "legendX": 87, "legendY": 742, "direction": "horizontal", "labelFont": "Liberation Serif", "labelFontSize": 13, "labelFontWeight": "bold", "labelColor": "black", "symbolType": "square", "symbolSize": 256, "symbolStrokeColor": "#555", "symbolStrokeWidth": 1, "columnPadding": 64, "labelOffset": 5}
}
}
